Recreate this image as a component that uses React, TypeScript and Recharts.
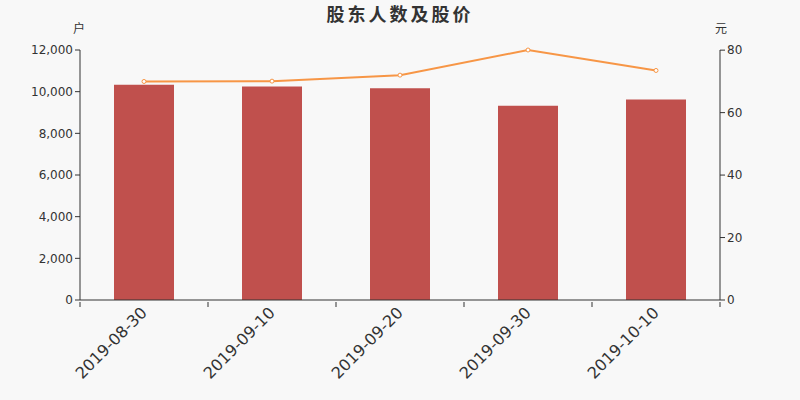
import React from 'react';
import { ComposedChart, Bar, Line, XAxis, YAxis } from 'recharts';

const dates = ['2019-08-30', '2019-09-10', '2019-09-20', '2019-09-30', '2019-10-10'];
const holders = [10330, 10250, 10170, 9320, 9630];
const prices = [69.97, 70.08, 72.0, 80.05, 73.5];
const leftTicks = [0, 2000, 4000, 6000, 8000, 10000, 12000];
const rightTicks = [0, 20, 40, 60, 80];

const data = dates.map((d, i) => ({ date: d, holders: holders[i], price: prices[i] }));

const FONT = '"DejaVu Sans", "Noto Sans CJK SC", sans-serif';
const TEXT = '#333';

const XTick = (props: any) => {
  const { x, y, payload, index, width, visibleTicksCount } = props;
  const count = visibleTicksCount || dates.length;
  const band = (width || 640) / count;
  const top = y - 8;
  const ax = x;
  const ay = top + 8;
  return (
    <g>
      <line x1={x - band / 2} x2={x - band / 2} y1={top} y2={top + 5} stroke={TEXT} />
      {index === count - 1 && <line x1={x + band / 2} x2={x + band / 2} y1={top} y2={top + 5} stroke={TEXT} />}
      <text
        x={ax}
        y={ay}
        transform={`rotate(-45, ${ax}, ${ay})`}
        textAnchor="end"
        dominantBaseline="central"
        fontSize={16}
        fontFamily={FONT}
        fill={TEXT}
      >
        {payload.value}
      </text>
    </g>
  );
};

const unitLabel = (text: string, side: 'left' | 'right') => (props: any) => {
  const vb = props.viewBox || {};
  const x = side === 'left' ? vb.x + vb.width - 1 : vb.x + 1;
  return (
    <text x={x} y={vb.y - 21} textAnchor="middle" dominantBaseline="central" fontSize={12} fontFamily={FONT} fill={TEXT}>
      {text}
    </text>
  );
};

export default function App() {
  return (
    <div style={{ position: 'absolute', left: 0, top: 0, width: 800, height: 400, background: '#f8f8f8' }}>
      <svg width={800} height={30} style={{ position: 'absolute', left: 0, top: 0 }}>
        <text x={400} y={14} textAnchor="middle" dominantBaseline="central" fontSize={18} fontWeight="bold" letterSpacing={3} fontFamily={FONT} fill={TEXT}>
          股东人数及股价
        </text>
      </svg>
      <ComposedChart width={800} height={400} data={data} margin={{ top: 50, right: 20, bottom: 20, left: 20 }} style={{ position: 'absolute', left: 0, top: 0 }}>
        <XAxis
          xAxisId="cat"
          dataKey="date"
          height={80}
          axisLine={{ stroke: TEXT }}
          tickLine={false}
          tickSize={8}
          interval={0}
          tick={<XTick />}
        />
        <YAxis
          yAxisId="left"
          orientation="left"
          width={60}
          domain={[0, 12000]}
          ticks={leftTicks}
          interval={0}
          tickFormatter={(v: number) => v.toLocaleString('en-US')}
          axisLine={{ stroke: TEXT }}
          tickLine={{ stroke: TEXT }}
          tickSize={5}
          tick={{ fill: TEXT, fontSize: 12, fontFamily: FONT }}
          label={{ content: unitLabel('户', 'left') } as any}
        />
        <YAxis
          yAxisId="right"
          orientation="right"
          width={60}
          domain={[0, 80]}
          ticks={rightTicks}
          interval={0}
          axisLine={{ stroke: TEXT }}
          tickLine={{ stroke: TEXT }}
          tickSize={5}
          tick={{ fill: TEXT, fontSize: 12, fontFamily: FONT }}
          label={{ content: unitLabel('元', 'right') } as any}
        />
        <Bar xAxisId="cat" yAxisId="left" dataKey="holders" fill="#c0504d" barSize={60} isAnimationActive={false} />
        <Line
          xAxisId="cat"
          yAxisId="right"
          dataKey="price"
          stroke="#f79646"
          strokeWidth={2}
          dot={{ r: 2, fill: '#fff', stroke: '#f79646', strokeWidth: 1 }}
          activeDot={false}
          isAnimationActive={false}
        />
      </ComposedChart>
    </div>
  );
}
